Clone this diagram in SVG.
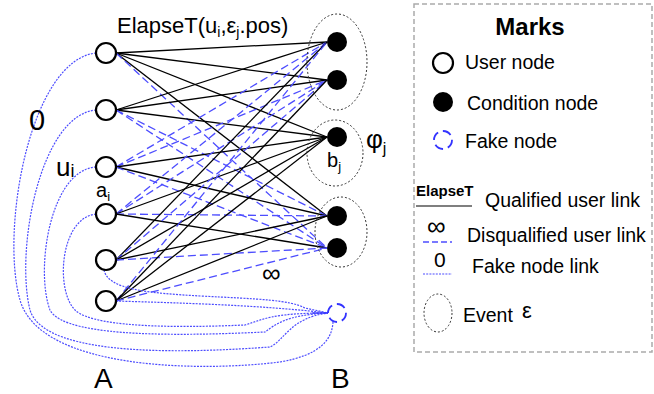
<svg xmlns="http://www.w3.org/2000/svg" width="654" height="394" viewBox="0 0 654 394">
<style>
text{font-family:"Liberation Sans",Arial,sans-serif;fill:#000}
.q{stroke:#000;stroke-width:1.3;fill:none}
.d{stroke:#4d4dff;stroke-width:1.3;fill:none;stroke-dasharray:8 4}
.f{stroke:#4d4dff;stroke-width:1.2;fill:none;stroke-dasharray:2 1.2}
.user{fill:#fff;stroke:#000;stroke-width:2.2}
.cond{fill:#000}
.fake{fill:none;stroke:#3333ff;stroke-width:1.8;stroke-dasharray:9 5}
.ev{fill:none;stroke:#333;stroke-width:1;stroke-dasharray:2 2}
.lg{font-size:19.5px}
</style>
<g id="connectors">
<line class="q" x1="116" y1="53" x2="327" y2="42"/>
<line class="q" x1="116" y1="53" x2="327" y2="80"/>
<line class="q" x1="116" y1="53" x2="327" y2="137"/>
<line class="q" x1="116" y1="53" x2="327" y2="216"/>
<line class="d" x1="116" y1="53" x2="327" y2="248"/>
<line class="q" x1="116" y1="110" x2="327" y2="42"/>
<line class="q" x1="116" y1="110" x2="327" y2="80"/>
<line class="q" x1="116" y1="110" x2="327" y2="137"/>
<line class="d" x1="116" y1="110" x2="327" y2="216"/>
<line class="d" x1="116" y1="110" x2="327" y2="248"/>
<line class="d" x1="116" y1="167" x2="327" y2="42"/>
<line class="d" x1="116" y1="167" x2="327" y2="80"/>
<line class="q" x1="116" y1="167" x2="327" y2="137"/>
<line class="q" x1="116" y1="167" x2="327" y2="216"/>
<line class="d" x1="116" y1="167" x2="327" y2="248"/>
<line class="d" x1="116" y1="214" x2="327" y2="42"/>
<line class="d" x1="116" y1="214" x2="327" y2="80"/>
<line class="q" x1="116" y1="214" x2="327" y2="137"/>
<line class="d" x1="116" y1="214" x2="327" y2="216"/>
<line class="q" x1="116" y1="214" x2="327" y2="248"/>
<line class="q" x1="116" y1="260" x2="327" y2="42"/>
<line class="d" x1="116" y1="260" x2="327" y2="80"/>
<line class="q" x1="116" y1="260" x2="327" y2="137"/>
<line class="q" x1="116" y1="260" x2="327" y2="216"/>
<line class="d" x1="116" y1="260" x2="327" y2="248"/>
<line class="d" x1="116" y1="301" x2="327" y2="42"/>
<line class="q" x1="116" y1="301" x2="327" y2="80"/>
<line class="q" x1="116" y1="301" x2="327" y2="137"/>
<line class="q" x1="116" y1="301" x2="327" y2="216"/>
<line class="d" x1="116" y1="301" x2="327" y2="248"/>
<path class="f" d="M96,53 C30,60 0,230 20,300 C40,370 200,372 280,362 C320,355 332,340 333,322"/>
<path class="f" d="M96,110 C40,115 15,250 30,310 C45,360 200,352 270,347 C285,340 290,318 328,313"/>
<path class="f" d="M96,167 C50,170 35,270 50,310 C65,340 200,335 265,332 C275,325 285,315 328,313"/>
<path class="f" d="M96,214 C60,218 55,290 75,310 C95,330 200,327 245,325 C262,320 270,313 328,313"/>
<path class="f" d="M104,270 C108,290 150,293 200,296 C260,299 290,300 305,308 L328,313"/>
<path class="f" d="M116,301 C180,303 260,305 328,313"/>
<line x1="312" y1="313" x2="328" y2="313" stroke="#3333ff" stroke-width="1.2"/>
</g>
<g id="events">
<ellipse class="ev" cx="337" cy="62" rx="30" ry="48"/>
<ellipse class="ev" cx="335" cy="153" rx="28" ry="33"/>
<ellipse class="ev" cx="341" cy="232" rx="26" ry="35"/>
</g>
<g id="users">
<circle id="u1" class="user" cx="106" cy="53" r="10"/>
<circle id="u2" class="user" cx="106" cy="110" r="10"/>
<circle id="u3" class="user" cx="106" cy="167" r="10"/>
<circle id="u4" class="user" cx="106" cy="214" r="10"/>
<circle id="u5" class="user" cx="106" cy="260" r="10"/>
<circle id="u6" class="user" cx="106" cy="301" r="10"/>
</g>
<g id="conditions">
<circle id="b1" class="cond" cx="337" cy="42" r="10"/>
<circle id="b2" class="cond" cx="337" cy="80" r="10"/>
<circle id="b3" class="cond" cx="337" cy="137" r="10"/>
<circle id="b4" class="cond" cx="337" cy="216" r="10"/>
<circle id="b5" class="cond" cx="337" cy="248" r="10"/>
</g>
<g id="fake"><circle class="fake" cx="337" cy="313" r="9"/></g>
<g id="labels">
<text x="117" y="33" font-size="22">ElapseT(u<tspan font-size="14" dy="4">i</tspan><tspan dy="-4">,ε</tspan><tspan font-size="14" dy="4">j</tspan><tspan dy="-4">.pos)</tspan></text>
<text x="29" y="130" font-size="29">0</text>
<text x="56" y="176" font-size="26">u<tspan font-size="18" dy="1">i</tspan></text>
<text x="96" y="197" font-size="20">a<tspan font-size="13" dy="4">i</tspan></text>
<text x="327" y="167" font-size="20">b<tspan font-size="13" dy="4">j</tspan></text>
<text x="366" y="148" font-size="26">φ<tspan font-size="16" dy="6">j</tspan></text>
<text x="262" y="282" font-size="26">∞</text>
<text x="94" y="388" font-size="28">A</text>
<text x="331" y="388" font-size="28">B</text>
</g>
<g id="legend">
<rect x="414" y="4" width="238" height="348" fill="none" stroke="#aaa" stroke-width="1.5" stroke-dasharray="5 3"/>
<text x="530" y="35" font-size="24" font-weight="bold" text-anchor="middle">Marks</text>
<circle class="user" cx="443" cy="63" r="10"/>
<text class="lg" x="465" y="69">User node</text>
<circle class="cond" cx="443" cy="102" r="10"/>
<text class="lg" x="467" y="110">Condition node</text>
<circle class="fake" cx="443" cy="140" r="9"/>
<text class="lg" x="465" y="148">Fake node</text>
<text x="416" y="196" font-size="15" font-weight="bold">ElapseT</text>
<line x1="416" y1="206" x2="472" y2="206" stroke="#000" stroke-width="1.2"/>
<text class="lg" x="485" y="207">Qualified user link</text>
<text x="427" y="235" font-size="26">∞</text>
<line class="d" x1="423" y1="242" x2="452" y2="242" style="stroke-dasharray:6 3"/>
<text class="lg" x="467" y="242" font-size="20">Disqualified user link</text>
<text x="434" y="267" font-size="21">0</text>
<line class="f" x1="423" y1="274" x2="452" y2="274"/>
<text class="lg" x="472" y="273">Fake node link</text>
<ellipse class="ev" cx="438" cy="313" rx="14" ry="19"/>
<text class="lg" x="463" y="322">Event</text>
<text x="522" y="318" font-size="22">ε</text>
</g>
</svg>
